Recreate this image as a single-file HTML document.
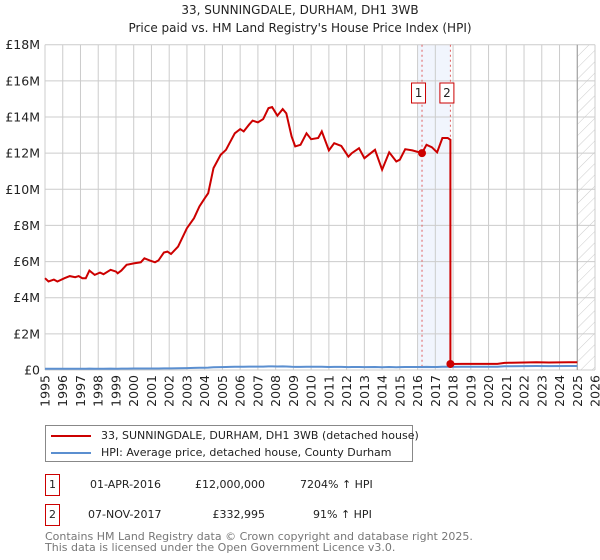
<!DOCTYPE html>
<html><head><meta charset="utf-8"><style>
body{margin:0;background:#fff;font-family:"DejaVu Sans","Liberation Sans",sans-serif;}
#wrap{position:relative;width:600px;height:560px;overflow:hidden;}
</style></head><body>
<div id="wrap">
<svg id="chart" width="600" height="560" xmlns="http://www.w3.org/2000/svg">
<defs>
<pattern id="hatch" width="8" height="8" patternUnits="userSpaceOnUse" patternTransform="rotate(45)">
<line x1="0" y1="0" x2="0" y2="8" stroke="#ccc" stroke-width="1"/>
</pattern>
</defs>
<text x="300" y="14" text-anchor="middle" font-size="12" fill="#222">33, SUNNINGDALE, DURHAM, DH1 3WB</text>
<text x="300" y="32" text-anchor="middle" font-size="12" fill="#222">Price paid vs. HM Land Registry's House Price Index (HPI)</text>
<g id="grid"></g>
<g id="marks"></g>
<g id="axes"></g>
</svg>
<div style="position:absolute;left:45px;top:425px;width:366px;height:35px;border:1px solid #888;font-size:11px;color:#222;">
<div style="position:absolute;left:5px;top:3px;white-space:nowrap;"><span style="display:inline-block;width:40px;height:2px;background:#cc0000;vertical-align:middle;margin-right:10px;"></span>33, SUNNINGDALE, DURHAM, DH1 3WB (detached house)</div>
<div style="position:absolute;left:5px;top:20px;white-space:nowrap;"><span style="display:inline-block;width:40px;height:2px;background:#5b8fd0;vertical-align:middle;margin-right:10px;"></span>HPI: Average price, detached house, County Durham</div>
</div>
<div style="position:absolute;left:0;top:474px;width:600px;height:22px;font-size:11px;color:#222;">
<div style="position:absolute;left:45px;top:0;width:13px;height:20px;border:1px solid #cc0000;text-align:center;line-height:20px;">1</div>
<div style="position:absolute;left:90px;top:4px;">01-APR-2016</div>
<div style="position:absolute;right:335px;top:4px;">£12,000,000</div>
<div style="position:absolute;left:300px;top:4px;">7204% ↑ HPI</div>
</div>
<div style="position:absolute;left:0;top:504px;width:600px;height:22px;font-size:11px;color:#222;">
<div style="position:absolute;left:45px;top:0;width:13px;height:20px;border:1px solid #cc0000;text-align:center;line-height:20px;">2</div>
<div style="position:absolute;left:88px;top:4px;">07-NOV-2017</div>
<div style="position:absolute;right:335px;top:4px;">£332,995</div>
<div style="position:absolute;left:313px;top:4px;">91% ↑ HPI</div>
</div>
<div style="position:absolute;left:45px;top:531px;font-size:11px;line-height:11px;color:#777;">Contains HM Land Registry data © Crown copyright and database right 2025.<br>This data is licensed under the Open Government Licence v3.0.</div>
</div>
<script>
const hpiYears=[1995.0,1995.2,1995.5,1995.7,1996.1,1996.4,1996.7,1996.9,1997.1,1997.3,1997.5,1997.8,1998.1,1998.3,1998.7,1999.0,1999.1,1999.3,1999.6,2000.0,2000.4,2000.6,2000.9,2001.2,2001.4,2001.7,2001.9,2002.1,2002.5,2003.0,2003.4,2003.7,2004.0,2004.2,2004.5,2004.9,2005.2,2005.4,2005.7,2006.0,2006.2,2006.5,2006.7,2007.0,2007.3,2007.6,2007.8,2008.1,2008.4,2008.6,2008.9,2009.1,2009.4,2009.74,2010.0,2010.4,2010.6,2011.0,2011.3,2011.7,2012.1,2012.3,2012.7,2013.0,2013.6,2014.0,2014.4,2014.8,2015.0,2015.3,2015.7,2016.25,2016.5,2016.8,2017.1,2017.4,2017.7,2017.85,2018.5,2019.5,2020.5,2020.9,2021.3,2022.7,2023.4,2024.5,2025.0];
const hpiValues=[69.4,66.9,68.3,66.9,69.4,71.0,70.1,71.0,69.4,69.4,75.1,71.9,73.6,72.4,75.7,74.4,73.1,75.1,79.5,80.6,81.4,84.4,82.8,81.4,82.8,88.8,89.5,87.7,93.3,107.2,114.7,123.6,129.8,133.6,152.6,162.6,166.4,171.4,178.9,182.1,180.3,185.4,188.5,187.1,189.6,197.9,198.7,192.2,197.2,194.0,176.5,169.0,170.2,178.9,174.4,175.3,180.3,166.0,171.4,169.4,161.2,163.9,167.6,160.1,166.4,151.4,164.5,157.6,158.9,166.9,166.0,163.9,170.2,168.4,164.5,175.3,175.3,174.0,175,176,176,205,212,222,218,222,222];
const saleYears=[2016.25,2017.85];
const salePrices=[12000000,332995];
const saleLabels=["1","2"];
const yTicks=[0,2,4,6,8,10,12,14,16,18];
const yTickLabels=["£0","£2M","£4M","£6M","£8M","£10M","£12M","£14M","£16M","£18M"];
const xTicks=[1995,1996,1997,1998,1999,2000,2001,2002,2003,2004,2005,2006,2007,2008,2009,2010,2011,2012,2013,2014,2015,2016,2017,2018,2019,2020,2021,2022,2023,2024,2025,2026];

const NS="http://www.w3.org/2000/svg";
const L=45,R=595,T=44.7,B=370;
const xs=y=>L+(y-1995)/(2026-1995)*(R-L);
const ys=v=>B-v/18e6*(B-T);
function mk(tag,attrs,parent){const e=document.createElementNS(NS,tag);for(const k in attrs)e.setAttribute(k,attrs[k]);parent.appendChild(e);return e;}
const grid=document.getElementById('grid'),marks=document.getElementById('marks'),axes=document.getElementById('axes');
let band=mk('rect',{x:xs(2016.0),y:T,width:xs(saleYears[1])-xs(2016.0),height:B-T,fill:'#eef3fd',opacity:0.8},grid);


let hz=mk('rect',{x:xs(2025.0),y:T,width:R-xs(2025.0),height:B-T,fill:'url(#hatch)'},grid);


xTicks.forEach((t,i)=>{
  let g=mk('line',{x1:xs(t),x2:xs(t),y1:T,y2:B,stroke:'#cccccc','stroke-width':1},grid);
  
  
  let tx=mk('text',{x:0,y:0,'font-size':12.5,fill:'#222','text-anchor':'end',transform:`translate(${xs(t)+4.5},${B+5}) rotate(-90)`},axes);
  tx.textContent=t;
  
  
});
yTicks.forEach((t,i)=>{
  let g=mk('line',{x1:L,x2:R,y1:ys(t*1e6),y2:ys(t*1e6),stroke:'#cccccc','stroke-width':1},grid);
  
  
  let tx=mk('text',{x:40,y:ys(t*1e6)+4.5,'font-size':12.5,fill:'#222','text-anchor':'end'},axes);
  tx.textContent=yTickLabels[i];
  
  
});
let vl=mk('line',{x1:xs(2025.0),x2:xs(2025.0),y1:T,y2:B,stroke:'#999','stroke-width':1},grid);


saleYears.forEach((s,i)=>{
  let d=mk('line',{x1:xs(s),x2:xs(s),y1:T,y2:B,stroke:'#e06060','stroke-width':1,'stroke-dasharray':'2,3'},grid);
  
  
});
function hpiAt(yr){for(let i=0;i<hpiYears.length-1;i++){if(yr>=hpiYears[i]&&yr<=hpiYears[i+1]){const f=(yr-hpiYears[i])/(hpiYears[i+1]-hpiYears[i]);return hpiValues[i]+f*(hpiValues[i+1]-hpiValues[i]);}}return hpiValues[hpiValues.length-1];}
const r1=salePrices[0]/(hpiAt(saleYears[0])*1000);
const r2=salePrices[1]/(hpiAt(saleYears[1])*1000);
let hp=hpiYears.map((y,i)=>`${xs(y).toFixed(1)},${ys(hpiValues[i]*1000).toFixed(1)}`).join(' ');
let hl=mk('polyline',{points:hp,fill:'none',stroke:'#5b8fd0','stroke-width':2},marks);


let pts=[];
hpiYears.forEach((y,i)=>{ if(y<saleYears[1]) pts.push([y,hpiValues[i]*1000*r1]); });
pts.push([saleYears[1],hpiAt(saleYears[1])*1000*r1]);
pts.push([saleYears[1],salePrices[1]]);
hpiYears.forEach((y,i)=>{ if(y>saleYears[1]) pts.push([y,hpiValues[i]*1000*r2]); });
let pl=mk('polyline',{points:pts.map(p=>`${xs(p[0]).toFixed(1)},${ys(p[1]).toFixed(1)}`).join(' '),fill:'none',stroke:'#cc0000','stroke-width':2},marks);


saleYears.forEach((s,i)=>{
  let c=mk('circle',{cx:xs(s),cy:ys(salePrices[i]),r:4,fill:'#cc0000'},marks);
  
  
  let bx=mk('rect',{x:xs(s)-10.5,y:83,width:14,height:20,fill:'#fff',stroke:'#cc0000','stroke-width':1},marks);
  
  
  let t=mk('text',{x:xs(s)-3.5,y:97,'font-size':12,'text-anchor':'middle',fill:'#222'},marks);
  t.textContent=saleLabels[i];
  
  
});
</script>
</body></html>
